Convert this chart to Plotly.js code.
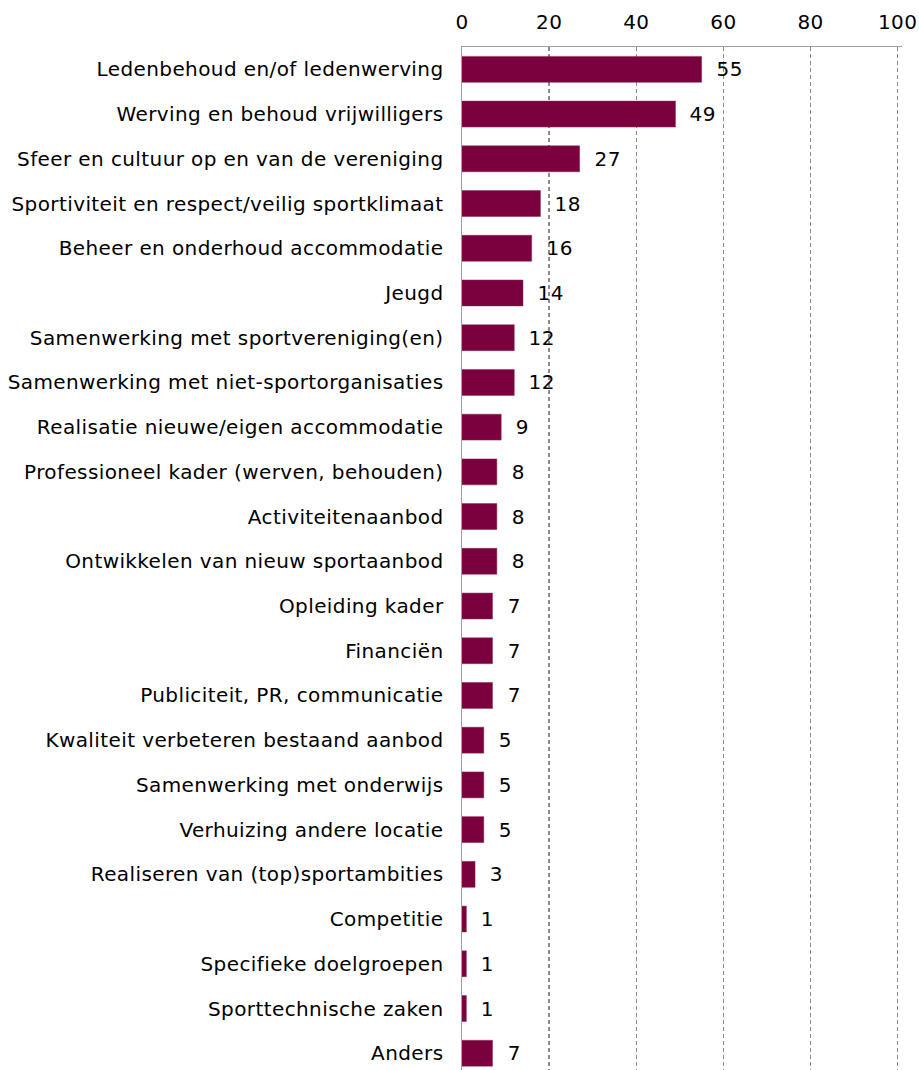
<!DOCTYPE html>
<html>
<head>
<meta charset="utf-8">
<script src="https://cdn.plot.ly/plotly-3.0.1.min.js"></script>
<style>
html, body { margin: 0; padding: 0; background: #fff; overflow: hidden; }
#chart { width: 919px; height: 1070px; }
#chart text { letter-spacing: 0.4px; }
</style>
</head>
<body>
<div id="chart"></div>
<script>
const categories = [
  "Ledenbehoud en/of ledenwerving",
  "Werving en behoud vrijwilligers",
  "Sfeer en cultuur op en van de vereniging",
  "Sportiviteit en respect/veilig sportklimaat",
  "Beheer en onderhoud accommodatie",
  "Jeugd",
  "Samenwerking met sportvereniging(en)",
  "Samenwerking met niet-sportorganisaties",
  "Realisatie nieuwe/eigen accommodatie",
  "Professioneel kader (werven, behouden)",
  "Activiteitenaanbod",
  "Ontwikkelen van nieuw sportaanbod",
  "Opleiding kader",
  "Financiën",
  "Publiciteit, PR, communicatie",
  "Kwaliteit verbeteren bestaand aanbod",
  "Samenwerking met onderwijs",
  "Verhuizing andere locatie",
  "Realiseren van (top)sportambities",
  "Competitie",
  "Specifieke doelgroepen",
  "Sporttechnische zaken",
  "Anders"
];
const values = [55, 49, 27, 18, 16, 14, 12, 12, 9, 8, 8, 8, 7, 7, 7, 5, 5, 5, 3, 1, 1, 1, 7];
const xTicks = [0, 20, 40, 60, 80, 100];

const FONT = "DejaVu Sans, Verdana, sans-serif";

const trace = {
  type: "bar",
  orientation: "h",
  x: values,
  y: categories,
  width: 0.58,
  marker: { color: "#7b003e", line: { color: "#8a2a55", width: 0.5 } },
  hoverinfo: "none",
  cliponaxis: false
};

const annotations = values.map((v, i) => ({
  x: v,
  y: categories[i],
  xref: "x",
  yref: "y",
  text: String(v),
  showarrow: false,
  xanchor: "left",
  yanchor: "middle",
  xshift: 13,
  font: { family: FONT, size: 20, color: "#000" }
}));

const layout = {
  width: 919,
  height: 1070,
  margin: { l: 462, r: 16.6, t: 47, b: 0, pad: 0 },
  paper_bgcolor: "#fff",
  plot_bgcolor: "#fff",
  showlegend: false,
  bargap: 0.42,
  xaxis: {
    side: "top",
    range: [0, 101],
    tickvals: xTicks,
    ticktext: xTicks.map(String),
    showgrid: true,
    gridcolor: "#8c8c8c",
    gridwidth: 1.5,
    griddash: "4px,3px",
    zeroline: false,
    showline: true,
    linecolor: "#a0a0a0",
    linewidth: 1.5,
    ticks: "outside",
    ticklen: 9,
    tickcolor: "rgba(0,0,0,0)",
    tickfont: { family: FONT, size: 20, color: "#000" },
    fixedrange: true
  },
  yaxis: {
    type: "category",
    categoryorder: "array",
    categoryarray: categories,
    range: [22.375, -0.5],
    showgrid: false,
    zeroline: false,
    showline: true,
    linecolor: "#a0a0a0",
    linewidth: 1.5,
    ticks: "outside",
    ticklen: 13,
    tickcolor: "rgba(0,0,0,0)",
    tickfont: { family: FONT, size: 20, color: "#000" },
    fixedrange: true
  },
  annotations: annotations
};

Plotly.newPlot("chart", [trace], layout, { displayModeBar: false, staticPlot: true });
</script>
</body>
</html>
